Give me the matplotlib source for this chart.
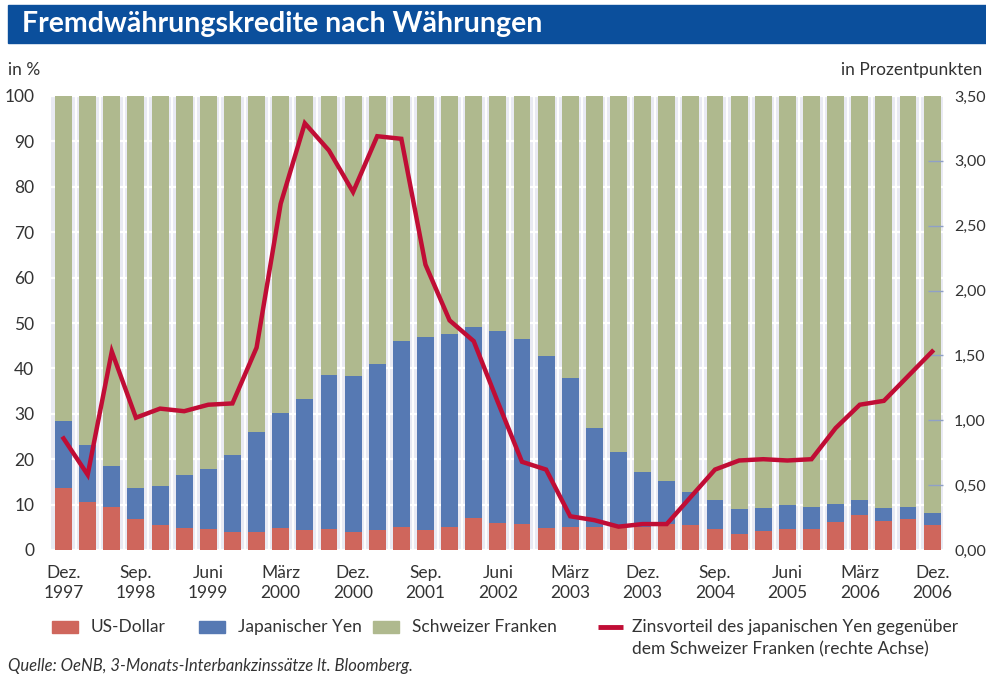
import numpy as np
from matplotlib import pyplot as plt
from matplotlib import rc
from matplotlib.patches import Rectangle
from matplotlib.lines import Line2D

rc('font', family=['Lato', 'DejaVu Sans'])
rc('axes', axisbelow=True)

# quarterly, Dez. 1997 .. Dez. 2006
tick_labels = ['Dez.\n1997', 'Sep.\n1998', 'Juni\n1999', 'März\n2000', 'Dez.\n2000',
               'Sep.\n2001', 'Juni\n2002', 'März\n2003', 'Dez.\n2003', 'Sep.\n2004',
               'Juni\n2005', 'März\n2006', 'Dez.\n2006']

usd = [13.7, 10.6, 9.5, 6.8, 5.5, 4.9, 4.6, 4.0, 4.0, 4.9, 4.5, 4.6, 4.0, 4.5, 5.1,
       4.5, 5.1, 7.1, 5.9, 5.8, 4.9, 5.1, 5.1, 5.0, 5.1, 5.7, 5.5, 4.6, 3.6, 4.2,
       4.6, 4.6, 6.2, 7.6, 6.4, 6.8, 5.5]
jpy = [14.7, 12.5, 9.0, 6.9, 8.6, 11.6, 13.2, 16.9, 22.0, 25.3, 28.8, 33.9, 34.3,
       36.5, 40.9, 42.4, 42.5, 42.0, 42.3, 40.7, 37.8, 32.8, 21.8, 16.6, 12.1, 9.5,
       7.3, 6.4, 5.4, 5.0, 5.3, 4.9, 3.9, 3.4, 2.8, 2.7, 2.6]
chf = [71.6, 76.9, 81.5, 86.3, 85.9, 83.5, 82.2, 79.1, 74.0, 69.8, 66.7, 61.5, 61.7,
       59.0, 54.0, 53.1, 52.4, 50.9, 51.8, 53.5, 57.3, 62.1, 73.1, 78.4, 82.8, 84.8,
       87.2, 89.0, 91.0, 90.8, 90.1, 90.5, 89.9, 89.0, 90.8, 90.5, 91.9]
spread = [0.86, 0.58, 1.53, 1.02, 1.09, 1.07, 1.12, 1.13, 1.56, 2.67, 3.29, 3.08, 2.76,
          3.19, 3.17, 2.20, 1.77, 1.61, 1.14, 0.68, 0.62, 0.26, 0.23, 0.18, 0.20, 0.20,
          0.41, 0.62, 0.69, 0.70, 0.69, 0.70, 0.94, 1.12, 1.15, 1.34, 1.53]

c_usd = '#cf665c'
c_jpy = '#5679b3'
c_chf = '#afb98e'
c_line = '#c00d35'
c_bg = '#e9eaf3'
c_text = '#333333'
fs = 12.5

W, H = 986, 675
fig = plt.figure(figsize=(W / 100, H / 100), dpi=100)

# title banner
fig.patches.append(Rectangle((8 / W, 1 - 43 / H), 1 - 8 / W, 38 / H,
                             transform=fig.transFigure, color='#0b4f9c', zorder=0))
fig.text(22 / W, 1 - 24 / H, 'Fremdwährungskredite nach Währungen', color='white',
         fontsize=20.5, fontweight='bold', va='center', ha='left')

ax = fig.add_axes([51 / W, 1 - 550 / H, (943 - 51) / W, (550 - 96) / H])
x = np.arange(len(usd))
ax.set_facecolor(c_bg)
for s in ax.spines.values():
    s.set_visible(False)

bw = 0.7
ax.bar(x, usd, bw, color=c_usd, zorder=2)
ax.bar(x, jpy, bw, bottom=usd, color=c_jpy, zorder=2)
ax.bar(x, chf, bw, bottom=np.add(usd, jpy), color=c_chf, zorder=2)

ax.set_ylim(0, 100)
ax.set_xlim(-0.52, len(x) - 0.55)
ax.set_yticks(range(0, 101, 10))
ax.yaxis.grid(True, color='white', lw=1.6)
for xv in x[:-1] + 0.5:
    ax.axvline(xv, color='white', lw=1.4, zorder=1)
ax.set_xticks(x[::3])
ax.set_xticklabels(tick_labels, linespacing=1.3)
ax.tick_params(axis='both', length=0, labelsize=fs, labelcolor=c_text)
ax.tick_params(axis='x', pad=11)
ax.tick_params(axis='y', pad=12)

ax2 = ax.twinx()
for s in ax2.spines.values():
    s.set_visible(False)
ax2.plot(x, spread, color=c_line, lw=3.2, solid_joinstyle='miter', zorder=5)
ax2.set_ylim(0, 3.5)
ax2.set_yticks(np.arange(0, 3.51, 0.5))
ax2.set_yticklabels([f'{v:.2f}'.replace('.', ',') for v in np.arange(0, 3.51, 0.5)])
ax2.tick_params(axis='y', direction='in', length=11, width=1, color='#8fa0c8',
                labelsize=11.5, labelcolor=c_text, pad=8)
# no tick marks at the frame edges
for t in ax2.yaxis.get_major_ticks()[::7]:
    t.tick2line.set_visible(False)

fig.text(8 / W, 1 - 70 / H, 'in %', fontsize=fs, color=c_text, va='center')
fig.text(982 / W, 1 - 70 / H, 'in Prozentpunkten', fontsize=fs, color=c_text,
         va='center', ha='right')

# legend
ly = 1 - 627 / H
for x0, col, lab in [(52, c_usd, 'US-Dollar'), (199, c_jpy, 'Japanischer Yen'),
                     (373, c_chf, 'Schweizer Franken')]:
    fig.patches.append(Rectangle((x0 / W, 1 - 633 / H), 26 / W, 12 / H,
                                 transform=fig.transFigure, color=col))
    fig.text((x0 + 39) / W, ly, lab, fontsize=fs, color=c_text, va='center')
fig.lines.append(Line2D([598 / W, 623 / W], [ly, ly], transform=fig.transFigure,
                        color=c_line, lw=3.5, solid_capstyle='butt'))
fig.text(632 / W, ly, 'Zinsvorteil des japanischen Yen gegenüber', fontsize=fs,
         color=c_text, va='center')
fig.text(632 / W, 1 - 649 / H, 'dem Schweizer Franken (rechte Achse)', fontsize=fs,
         color=c_text, va='center')

fig.text(8 / W, 1 - 666 / H, 'Quelle: OeNB, 3-Monats-Interbankzinssätze lt. Bloomberg.',
         fontsize=fs - 0.5, color=c_text, style='italic', va='center')

fig.savefig('out.png', dpi=100)
